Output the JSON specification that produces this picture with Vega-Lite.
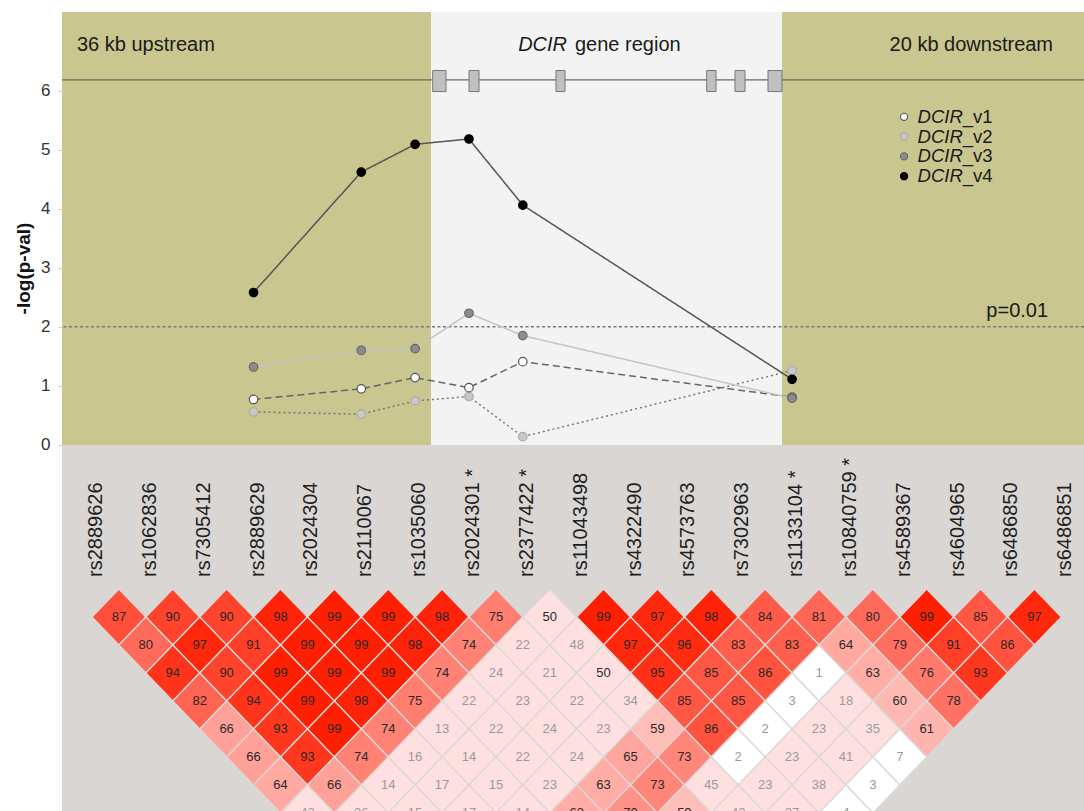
{
"$schema":"https://vega.github.io/schema/vega-lite/v6.json",
"width":1022,"height":799,
"autosize":{"type":"none"},
"padding":{"left":62,"top":12,"right":0,"bottom":0},
"background":"#ffffff",
"config":{"view":{"stroke":"#999999","strokeWidth":1},"font":"Liberation Sans","text":{"font":"Liberation Sans"},"axis":{"labelFont":"Liberation Sans","titleFont":"Liberation Sans"}},
"datasets":{
"regions":[{"part":"upstream","x0":-0.557,"x1":6.295,"y0":0,"y1":7.33},{"part":"gene","x0":6.295,"x1":12.813,"y0":0,"y1":7.33},{"part":"downstream","x0":12.813,"x1":18.421,"y0":0,"y1":7.33},{"part":"ld","x0":-0.557,"x1":18.421,"y0":-6.198,"y1":0}],
"exons":[{"start":6.327,"end":6.574},{"start":7.001,"end":7.187},{"start":8.616,"end":8.784},{"start":11.415,"end":11.588},{"start":11.94,"end":12.126},{"start":12.553,"end":12.813}],
"pvals":[
{"snp":3,"variant":"v2","logp":0.56},{"snp":5,"variant":"v2","logp":0.52},{"snp":6,"variant":"v2","logp":0.745},{"snp":7,"variant":"v2","logp":0.82},{"snp":8,"variant":"v2","logp":0.14},{"snp":13,"variant":"v2","logp":1.26},
{"snp":3,"variant":"v1","logp":0.77},{"snp":5,"variant":"v1","logp":0.95},{"snp":6,"variant":"v1","logp":1.14},{"snp":7,"variant":"v1","logp":0.97},{"snp":8,"variant":"v1","logp":1.41},{"snp":13,"variant":"v1","logp":0.81},
{"snp":3,"variant":"v3","logp":1.32},{"snp":5,"variant":"v3","logp":1.6},{"snp":6,"variant":"v3","logp":1.63},{"snp":7,"variant":"v3","logp":2.23},{"snp":8,"variant":"v3","logp":1.85},{"snp":13,"variant":"v3","logp":0.79},
{"snp":3,"variant":"v4","logp":2.58},{"snp":5,"variant":"v4","logp":4.62},{"snp":6,"variant":"v4","logp":5.09},{"snp":7,"variant":"v4","logp":5.18},{"snp":8,"variant":"v4","logp":4.06},{"snp":13,"variant":"v4","logp":1.11}],
"legend":[{"variant":"v1","suffix":"_v1","ly":5.555},{"variant":"v2","suffix":"_v2","ly":5.22},{"variant":"v3","suffix":"_v3","ly":4.885},{"variant":"v4","suffix":"_v4","ly":4.55}],
"snps":[{"idx":0,"label":"rs2889626"},{"idx":1,"label":"rs1062836"},{"idx":2,"label":"rs7305412"},{"idx":3,"label":"rs2889629"},{"idx":4,"label":"rs2024304"},{"idx":5,"label":"rs2110067"},{"idx":6,"label":"rs1035060"},{"idx":7,"label":"rs2024301 *"},{"idx":8,"label":"rs2377422 *"},{"idx":9,"label":"rs11043498"},{"idx":10,"label":"rs4322490"},{"idx":11,"label":"rs4573763"},{"idx":12,"label":"rs7302963"},{"idx":13,"label":"rs1133104 *"},{"idx":14,"label":"rs10840759 *"},{"idx":15,"label":"rs4589367"},{"idx":16,"label":"rs4604965"},{"idx":17,"label":"rs6486850"},{"idx":18,"label":"rs6486851"}],
"ld":[
{"pos":0.5,"row":1,"ld":87},{"pos":1.5,"row":1,"ld":90},{"pos":2.5,"row":1,"ld":90},{"pos":3.5,"row":1,"ld":98},{"pos":4.5,"row":1,"ld":99},{"pos":5.5,"row":1,"ld":99},{"pos":6.5,"row":1,"ld":98},{"pos":7.5,"row":1,"ld":75},{"pos":8.5,"row":1,"ld":50},{"pos":9.5,"row":1,"ld":99},{"pos":10.5,"row":1,"ld":97},{"pos":11.5,"row":1,"ld":98},{"pos":12.5,"row":1,"ld":84},{"pos":13.5,"row":1,"ld":81},{"pos":14.5,"row":1,"ld":80},{"pos":15.5,"row":1,"ld":99},{"pos":16.5,"row":1,"ld":85},{"pos":17.5,"row":1,"ld":97},
{"pos":1,"row":2,"ld":80},{"pos":2,"row":2,"ld":97},{"pos":3,"row":2,"ld":91},{"pos":4,"row":2,"ld":99},{"pos":5,"row":2,"ld":99},{"pos":6,"row":2,"ld":98},{"pos":7,"row":2,"ld":74},{"pos":8,"row":2,"ld":22},{"pos":9,"row":2,"ld":48},{"pos":10,"row":2,"ld":97},{"pos":11,"row":2,"ld":96},{"pos":12,"row":2,"ld":83},{"pos":13,"row":2,"ld":83},{"pos":14,"row":2,"ld":64},{"pos":15,"row":2,"ld":79},{"pos":16,"row":2,"ld":91},{"pos":17,"row":2,"ld":86},
{"pos":1.5,"row":3,"ld":94},{"pos":2.5,"row":3,"ld":90},{"pos":3.5,"row":3,"ld":99},{"pos":4.5,"row":3,"ld":99},{"pos":5.5,"row":3,"ld":99},{"pos":6.5,"row":3,"ld":74},{"pos":7.5,"row":3,"ld":24},{"pos":8.5,"row":3,"ld":21},{"pos":9.5,"row":3,"ld":50},{"pos":10.5,"row":3,"ld":95},{"pos":11.5,"row":3,"ld":85},{"pos":12.5,"row":3,"ld":86},{"pos":13.5,"row":3,"ld":1},{"pos":14.5,"row":3,"ld":63},{"pos":15.5,"row":3,"ld":76},{"pos":16.5,"row":3,"ld":93},
{"pos":2,"row":4,"ld":82},{"pos":3,"row":4,"ld":94},{"pos":4,"row":4,"ld":99},{"pos":5,"row":4,"ld":98},{"pos":6,"row":4,"ld":75},{"pos":7,"row":4,"ld":22},{"pos":8,"row":4,"ld":23},{"pos":9,"row":4,"ld":22},{"pos":10,"row":4,"ld":34},{"pos":11,"row":4,"ld":85},{"pos":12,"row":4,"ld":85},{"pos":13,"row":4,"ld":3},{"pos":14,"row":4,"ld":18},{"pos":15,"row":4,"ld":60},{"pos":16,"row":4,"ld":78},
{"pos":2.5,"row":5,"ld":66},{"pos":3.5,"row":5,"ld":93},{"pos":4.5,"row":5,"ld":99},{"pos":5.5,"row":5,"ld":74},{"pos":6.5,"row":5,"ld":13},{"pos":7.5,"row":5,"ld":22},{"pos":8.5,"row":5,"ld":24},{"pos":9.5,"row":5,"ld":23},{"pos":10.5,"row":5,"ld":59},{"pos":11.5,"row":5,"ld":86},{"pos":12.5,"row":5,"ld":2},{"pos":13.5,"row":5,"ld":23},{"pos":14.5,"row":5,"ld":35},{"pos":15.5,"row":5,"ld":61},
{"pos":3,"row":6,"ld":66},{"pos":4,"row":6,"ld":93},{"pos":5,"row":6,"ld":74},{"pos":6,"row":6,"ld":16},{"pos":7,"row":6,"ld":14},{"pos":8,"row":6,"ld":22},{"pos":9,"row":6,"ld":24},{"pos":10,"row":6,"ld":65},{"pos":11,"row":6,"ld":73},{"pos":12,"row":6,"ld":2},{"pos":13,"row":6,"ld":23},{"pos":14,"row":6,"ld":41},{"pos":15,"row":6,"ld":7},
{"pos":3.5,"row":7,"ld":64},{"pos":4.5,"row":7,"ld":66},{"pos":5.5,"row":7,"ld":14},{"pos":6.5,"row":7,"ld":17},{"pos":7.5,"row":7,"ld":15},{"pos":8.5,"row":7,"ld":23},{"pos":9.5,"row":7,"ld":63},{"pos":10.5,"row":7,"ld":73},{"pos":11.5,"row":7,"ld":45},{"pos":12.5,"row":7,"ld":23},{"pos":13.5,"row":7,"ld":38},{"pos":14.5,"row":7,"ld":3},
{"pos":4,"row":8,"ld":43},{"pos":5,"row":8,"ld":26},{"pos":6,"row":8,"ld":15},{"pos":7,"row":8,"ld":17},{"pos":8,"row":8,"ld":14},{"pos":9,"row":8,"ld":63},{"pos":10,"row":8,"ld":70},{"pos":11,"row":8,"ld":59},{"pos":12,"row":8,"ld":42},{"pos":13,"row":8,"ld":27},{"pos":14,"row":8,"ld":4}]
},
"resolve":{"scale":{"y":"independent","color":"independent"}},
"layer":[
{"data":{"name":"regions"},"mark":{"type":"rect"},
 "encoding":{
  "x":{"field":"x0","type":"quantitative","scale":{"domain":[-0.557,18.421],"nice":false,"zero":false},
   "axis":{"values":[1,3,5,7,9,11,13,15,17],"orient":"bottom","offset":-366,"labels":false,"domain":false,"grid":false,"ticks":true,"tickColor":"#f2f2f2","tickSize":7,"tickWidth":1,"title":null,"zindex":1}},
  "x2":{"field":"x1"},
  "y":{"field":"y0","type":"quantitative","scale":{"domain":[-6.198,7.33],"nice":false,"zero":false},
   "axis":{"orient":"left","values":[0,1,2,3,4,5,6],"grid":false,"domain":false,"tickColor":"#cccccc","tickSize":4,"labelPadding":8,"labelFontSize":17,"labelColor":"#333333","title":"-log(p-val)","titleFontSize":19,"titleFontWeight":"bold","titleColor":"#111111","titleAngle":270,"titleX":-39,"titleY":256,"titleAlign":"center","titleBaseline":"middle"}},
  "y2":{"field":"y1"},
  "fill":{"condition":[{"test":"datum.part === 'gene'","value":"#f3f3f3"},{"test":"datum.part === 'ld'","value":"#dad6d3"}],"value":"#c9c68f"}}},
{"data":{"values":[{}]},"mark":{"type":"rule","color":"#7a7a7a","strokeDash":[3,2.5],"strokeWidth":1.4},
 "encoding":{"y":{"datum":2,"type":"quantitative","scale":{"domain":[-6.198,7.33],"nice":false,"zero":false},"axis":null}}},
{"data":{"values":[{}]},"mark":{"type":"rule","color":"#6a6a5e","strokeWidth":1.3},
 "encoding":{"y":{"datum":6.181,"type":"quantitative","scale":{"domain":[-6.198,7.33],"nice":false,"zero":false},"axis":null}}},
{"data":{"name":"exons"},"mark":{"type":"rect","fill":"#c0c0c0","stroke":"#777777","strokeWidth":1},
 "encoding":{"x":{"field":"start","type":"quantitative","scale":{"domain":[-0.557,18.421],"nice":false,"zero":false},"axis":null},"x2":{"field":"end"},
  "y":{"datum":5.983,"type":"quantitative","scale":{"domain":[-6.198,7.33],"nice":false,"zero":false},"axis":null},"y2":{"datum":6.339}}},
{"data":{"name":"pvals"},"mark":{"type":"line","strokeWidth":1.5},
 "encoding":{"x":{"field":"snp","type":"quantitative","scale":{"domain":[-0.557,18.421],"nice":false,"zero":false},"axis":null},
  "y":{"field":"logp","type":"quantitative","scale":{"domain":[-6.198,7.33],"nice":false,"zero":false},"axis":null},
  "color":{"field":"variant","type":"nominal","scale":{"domain":["v1","v2","v3","v4"],"range":["#666666","#777777","#c4c4c4","#555555"]},"legend":null},
  "strokeDash":{"field":"variant","type":"nominal","scale":{"domain":["v1","v2","v3","v4"],"range":[[7,4],[2,3],[1,0],[1,0]]},"legend":null}}},
{"data":{"name":"pvals"},"mark":{"type":"circle","size":72,"opacity":1,"strokeWidth":1.2},
 "encoding":{"x":{"field":"snp","type":"quantitative","scale":{"domain":[-0.557,18.421],"nice":false,"zero":false},"axis":null},
  "y":{"field":"logp","type":"quantitative","scale":{"domain":[-6.198,7.33],"nice":false,"zero":false},"axis":null},
  "fill":{"field":"variant","type":"nominal","scale":{"domain":["v1","v2","v3","v4"],"range":["#ffffff","#c8c8c8","#8c8c8c","#000000"]},"legend":null},
  "stroke":{"field":"variant","type":"nominal","scale":{"domain":["v1","v2","v3","v4"],"range":["#555555","#aaaaaa","#666666","#000000"]},"legend":null}}},
{"data":{"name":"legend"},"mark":{"type":"circle","size":52,"opacity":1,"strokeWidth":1.1},
 "encoding":{"x":{"datum":15.08,"type":"quantitative","scale":{"domain":[-0.557,18.421],"nice":false,"zero":false},"axis":null},
  "y":{"field":"ly","type":"quantitative","scale":{"domain":[-6.198,7.33],"nice":false,"zero":false},"axis":null},
  "fill":{"field":"variant","type":"nominal","scale":{"domain":["v1","v2","v3","v4"],"range":["#ffffff","#c8c8c8","#8c8c8c","#000000"]},"legend":null},
  "stroke":{"field":"variant","type":"nominal","scale":{"domain":["v1","v2","v3","v4"],"range":["#555555","#aaaaaa","#666666","#000000"]},"legend":null}}},
{"data":{"name":"legend"},"mark":{"type":"text","align":"right","baseline":"middle","fontSize":18.5,"fontStyle":"italic","color":"#1a1a1a"},
 "encoding":{"x":{"datum":16.17,"type":"quantitative","scale":{"domain":[-0.557,18.421],"nice":false,"zero":false},"axis":null},
  "y":{"field":"ly","type":"quantitative","scale":{"domain":[-6.198,7.33],"nice":false,"zero":false},"axis":null},
  "text":{"value":"DCIR"}}},
{"data":{"name":"legend"},"mark":{"type":"text","align":"left","baseline":"middle","fontSize":18.5,"color":"#1a1a1a"},
 "encoding":{"x":{"datum":16.17,"type":"quantitative","scale":{"domain":[-0.557,18.421],"nice":false,"zero":false},"axis":null},
  "y":{"field":"ly","type":"quantitative","scale":{"domain":[-6.198,7.33],"nice":false,"zero":false},"axis":null},
  "text":{"field":"suffix"}}},
{"data":{"values":[{"t":"36 kb upstream","x":-0.279,"y":6.677},{"t":"gene region","x":8.969,"y":6.677}]},
 "mark":{"type":"text","align":"left","baseline":"alphabetic","fontSize":20,"color":"#1a1a1a"},
 "encoding":{"x":{"field":"x","type":"quantitative","scale":{"domain":[-0.557,18.421],"nice":false,"zero":false},"axis":null},
  "y":{"field":"y","type":"quantitative","scale":{"domain":[-6.198,7.33],"nice":false,"zero":false},"axis":null},"text":{"field":"t"}}},
{"data":{"values":[{"t":"20 kb downstream","x":17.846,"y":6.677},{"t":"p=0.01","x":17.754,"y":2.173}]},
 "mark":{"type":"text","align":"right","baseline":"alphabetic","fontSize":20,"color":"#1a1a1a"},
 "encoding":{"x":{"field":"x","type":"quantitative","scale":{"domain":[-0.557,18.421],"nice":false,"zero":false},"axis":null},
  "y":{"field":"y","type":"quantitative","scale":{"domain":[-6.198,7.33],"nice":false,"zero":false},"axis":null},"text":{"field":"t"}}},
{"data":{"values":[{"t":"DCIR","x":8.821,"y":6.677}]},
 "mark":{"type":"text","align":"right","baseline":"alphabetic","fontSize":20,"fontStyle":"italic","color":"#1a1a1a"},
 "encoding":{"x":{"field":"x","type":"quantitative","scale":{"domain":[-0.557,18.421],"nice":false,"zero":false},"axis":null},
  "y":{"field":"y","type":"quantitative","scale":{"domain":[-6.198,7.33],"nice":false,"zero":false},"axis":null},"text":{"field":"t"}}},
{"data":{"name":"snps"},"mark":{"type":"text","angle":270,"align":"left","baseline":"middle","dy":4,"fontSize":20,"color":"#1e1e1e"},
 "encoding":{"x":{"field":"idx","type":"quantitative","scale":{"domain":[-0.557,18.421],"nice":false,"zero":false},"axis":null},
  "y":{"datum":-2.235,"type":"quantitative","scale":{"domain":[-6.198,7.33],"nice":false,"zero":false},"axis":null},"text":{"field":"label"}}},
{"data":{"name":"ld"},"mark":{"type":"point","shape":"M-1,0L0,-1.04L1,0L0,1.04Z","size":2900,"filled":true,"opacity":1,"stroke":"#dcd8d4","strokeWidth":1.3},
 "encoding":{"x":{"field":"pos","type":"quantitative","scale":{"domain":[-0.557,18.421],"nice":false,"zero":false},"axis":null},
  "y":{"field":"row","type":"quantitative","scale":{"domain":[-20.607,7.929],"reverse":true,"nice":false,"zero":false},"axis":null},
  "color":{"field":"ld","type":"quantitative","scale":{"domain":[7.5,8,50,100],"range":["#ffffff","#ffe0e0","#ffe0e0","#ff1c00"],"clamp":true,"interpolate":"rgb"},"legend":null}}},
{"data":{"name":"ld"},"mark":{"type":"text","fontSize":13,"align":"center","baseline":"middle"},
 "encoding":{"x":{"field":"pos","type":"quantitative","scale":{"domain":[-0.557,18.421],"nice":false,"zero":false},"axis":null},
  "y":{"field":"row","type":"quantitative","scale":{"domain":[-20.607,7.929],"reverse":true,"nice":false,"zero":false},"axis":null},
  "text":{"field":"ld","type":"quantitative"},
  "color":{"condition":{"test":"datum.ld >= 50","value":"#2a2a2a"},"value":"#9a9a9a"}}}
]
}
